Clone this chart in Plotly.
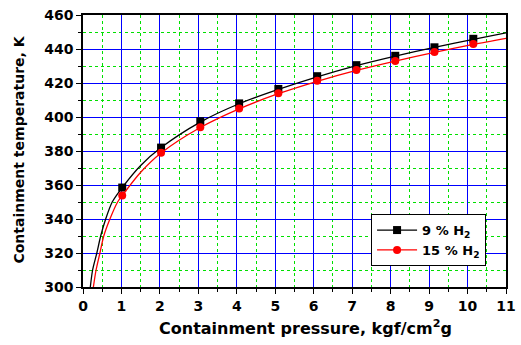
import plotly.graph_objects as go

# Measured points
pressure = [1.02, 2.03, 3.05, 4.06, 5.08, 6.09, 7.11, 8.12, 9.14, 10.15]
temp_9 = [358.5, 382.0, 397.5, 408.0, 416.5, 424.0, 430.5, 436.0, 441.0, 446.0]
temp_15 = [353.8, 379.0, 394.0, 405.0, 414.0, 421.3, 427.6, 433.0, 438.2, 443.0]

# Fitted curves
curve_9_x = [0.19, 0.25, 0.36, 0.46, 0.59, 0.76, 1.02, 1.5, 2.03, 3.05, 4.06, 5.08, 6.09, 7.11, 8.12, 9.14, 10.15, 11.0]
curve_9_y = [300.0, 310.0, 320.0, 330.0, 340.0, 350.0, 358.5, 371.5, 382.0, 397.0, 407.8, 416.2, 423.6, 430.2, 435.8, 441.0, 445.6, 449.5]
curve_15_x = [0.27, 0.34, 0.44, 0.54, 0.70, 0.90, 1.02, 1.5, 2.03, 3.05, 4.06, 5.08, 6.09, 7.11, 8.12, 9.14, 10.15, 11.0]
curve_15_y = [300.0, 310.0, 320.0, 330.0, 340.0, 350.0, 353.8, 367.5, 378.8, 393.8, 404.8, 413.7, 421.0, 427.4, 432.9, 438.0, 442.7, 446.3]

x_ticks = list(range(0, 12))
y_ticks = list(range(300, 461, 20))

FONT = "DejaVu Sans"

fig = go.Figure()
series = [
    ("9 % H<sub>2</sub>", "black", "square", pressure, temp_9, curve_9_x, curve_9_y),
    ("15 % H<sub>2</sub>", "red", "circle", pressure, temp_15, curve_15_x, curve_15_y),
]
for name, col, sym, px, py, cx, cy in series:
    fig.add_trace(go.Scatter(x=cx, y=cy, mode="lines", line=dict(color=col, width=1.3, shape="spline", smoothing=0.8),
                             showlegend=False, hoverinfo="skip"))
    fig.add_trace(go.Scatter(x=px, y=py, mode="markers", marker=dict(color=col, symbol=sym, size=8),
                             showlegend=False))
    fig.add_trace(go.Scatter(x=[None], y=[None], mode="lines+markers", name=name,
                             line=dict(color=col, width=1.3), marker=dict(color=col, symbol=sym, size=8)))

axis_common = dict(
    showline=True, linecolor="black", linewidth=1.5, mirror=True,
    ticks="outside", ticklen=5, tickwidth=1, tickcolor="black",
    showgrid=True, gridcolor="#0000ff", gridwidth=1,
    tickfont=dict(family=FONT, size=14, color="black", weight="bold"),
    zeroline=False,
)

fig.update_xaxes(range=[0, 11], tickvals=x_ticks, ticklabeloverflow="allow", **axis_common,
                 minor=dict(dtick=0.5, showgrid=True, gridcolor="#00e000", griddash="dot", gridwidth=1,
                            ticks="outside", ticklen=3, tickcolor="black"))
fig.update_yaxes(range=[300, 460], tickvals=y_ticks, **axis_common,
                 minor=dict(dtick=10, showgrid=True, gridcolor="#00e000", griddash="dot", gridwidth=1,
                            ticks="outside", ticklen=3, tickcolor="black"))

fig.update_layout(
    width=521, height=345,
    margin=dict(l=83, r=5, t=15, b=58),
    plot_bgcolor="white", paper_bgcolor="white",
    font=dict(family=FONT, color="black"),
    legend=dict(x=0.681, y=0.268, xanchor="left", yanchor="top",
                bgcolor="white", bordercolor="black", borderwidth=1,
                font=dict(family=FONT, size=13, color="black", weight="bold"),
                tracegroupgap=0, itemwidth=40),
    annotations=[
        dict(text="Containment pressure, kgf/cm<sup>2</sup>g", xref="paper", yref="paper",
             x=(311 - 83) / 433, y=(287 - 327) / 272, xanchor="center", yanchor="middle", showarrow=False,
             font=dict(family=FONT, size=16, color="black", weight="bold")),
        dict(text="Containment temperature, K", xref="paper", yref="paper",
             x=(17 - 83) / 433, y=(287 - 150) / 272, xanchor="center", yanchor="middle", showarrow=False,
             textangle=-90,
             font=dict(family=FONT, size=14, color="black", weight="bold")),
    ],
)

fig.write_html("out.html")
